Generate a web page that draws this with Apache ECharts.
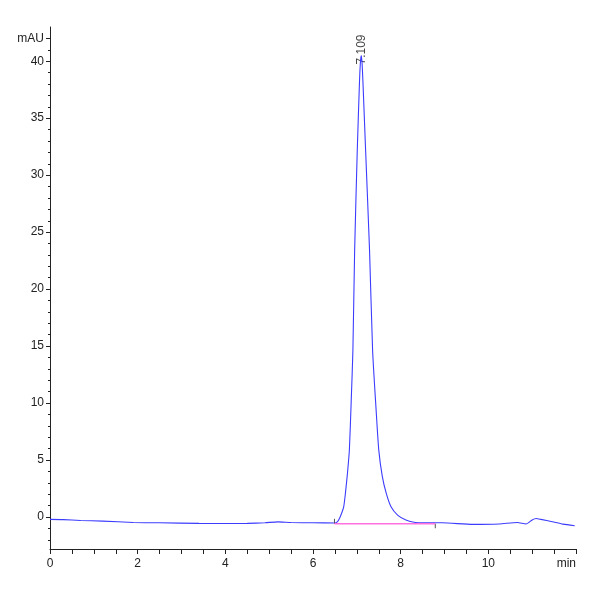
<!DOCTYPE html>
<html>
<head>
<meta charset="utf-8">
<script src="https://cdn.jsdelivr.net/npm/echarts@6/dist/echarts.min.js"></script>
<style>
	html, body { margin: 0; padding: 0; background: #fff; }
	#chart { width: 600px; height: 600px; }
</style>
</head>
<body>
<div id="chart"></div>
<script>
// retention time (min) and detector signal (mAU)
var timeMin = [0, 0.3, 0.7, 1.2, 1.9, 2.5, 3.4, 4.0, 4.5, 4.9, 5.2, 5.5, 6.0, 6.5,
	6.56, 6.60, 6.64, 6.70, 6.74, 6.79, 6.83, 6.87, 6.91, 6.95, 7.01, 7.06, 7.08, 7.10, 7.12, 7.14,
	7.20, 7.29, 7.36, 7.44, 7.50, 7.58, 7.67, 7.78, 7.93, 8.12, 8.40, 8.95, 9.64, 10.25,
	10.66, 10.86, 11.0, 11.09, 11.2, 11.46, 11.7, 11.97];
var signalMau = [-0.2, -0.22, -0.3, -0.35, -0.47, -0.5, -0.55, -0.56, -0.55, -0.5, -0.42, -0.48, -0.5, -0.52,
	-0.4, -0.15, 0.2, 0.9, 2.1, 4.0, 5.9, 10.0, 14.6, 23.4, 32.2, 38.1, 39.8, 40.5, 39.8, 38.1,
	32.2, 23.4, 14.6, 9.4, 5.9, 3.6, 2.1, 0.9, 0.17, -0.26, -0.5, -0.5, -0.64, -0.6,
	-0.47, -0.61, -0.25, -0.12, -0.2, -0.41, -0.62, -0.76];

// integration baseline of the peak
var baseStart = [6.49, -0.58];
var baseEnd = [8.79, -0.58];
var startMark = [[6.49, -0.58], [6.49, -0.15]];
var endMark = [[8.79, -0.58], [8.79, -0.98]];

var peakApex = [7.109, 40.5];
var peakName = '7.109';

var xLabels = [0, 2, 4, 6, 8, 10, 12];
var yLabels = [0, 5, 10, 15, 20, 25, 30, 35, 40, 42];
var yMinor = [];
for (var i = -2; i <= 42; i++) yMinor.push(i);

var font = '"Liberation Sans Narrow", "Liberation Sans", Arial, sans-serif';

var trace = timeMin.map(function(t, k) { return [t, signalMau[k]]; });

var chart = echarts.init(document.getElementById('chart'));
chart.setOption({
	backgroundColor: '#fff',
	animation: false,
	grid: { left: 50, right: 24, top: 27, bottom: 51 },
	xAxis: {
		type: 'value',
		min: 0,
		max: 12,
		interval: 0.5,
		axisLine: { onZero: false, lineStyle: { color: '#222', width: 1 } },
		axisTick: { length: 5, lineStyle: { color: '#222' } },
		axisLabel: {
			customValues: xLabels,
			formatter: function(v) { return v === 12 ? 'min' : v; },
			alignMaxLabel: 'right',
			color: '#222',
			fontFamily: font,
			fontSize: 12,
			margin: 9
		},
		splitLine: { show: false }
	},
	yAxis: [{
		type: 'value',
		min: -2.8,
		max: 43,
		position: 'left',
		axisLine: { show: true, onZero: false, lineStyle: { color: '#222', width: 1 } },
		axisTick: { show: true, customValues: yLabels, length: 4, lineStyle: { color: '#222' } },
		axisLabel: {
			customValues: yLabels,
			formatter: function(v) { return v === 42 ? 'mAU' : v; },
			color: '#222',
			fontFamily: font,
			fontSize: 12,
			margin: 6
		},
		splitLine: { show: false }
	}, {
		type: 'value',
		min: -2.8,
		max: 43,
		position: 'left',
		axisLine: { show: false, onZero: false },
		axisTick: { show: true, customValues: yMinor, length: 2, lineStyle: { color: '#222' } },
		axisLabel: { show: false },
		splitLine: { show: false }
	}],
	series: [{
		name: 'signal',
		type: 'line',
		data: trace,
		smooth: 0.2,
		symbol: 'none',
		lineStyle: { color: '#3c3cff', width: 1.1 },
		z: 3
	}, {
		name: 'baseline',
		type: 'line',
		data: [baseStart, baseEnd],
		symbol: 'none',
		lineStyle: { color: '#ff70e0', width: 1.4 },
		z: 4
	}, {
		name: 'start',
		type: 'line',
		data: startMark,
		symbol: 'none',
		lineStyle: { color: '#555', width: 1 }
	}, {
		name: 'end',
		type: 'line',
		data: endMark,
		symbol: 'none',
		lineStyle: { color: '#555', width: 1 }
	}, {
		name: 'peak',
		type: 'scatter',
		data: [peakApex],
		symbolSize: 0,
		label: {
			show: true,
			formatter: peakName,
			position: 'top',
			distance: -6,
			offset: [-3, 0],
			rotate: 90,
			align: 'left',
			verticalAlign: 'middle',
			color: '#111',
			fontFamily: font,
			fontSize: 12
		}
	}]
});
</script>
</body>
</html>
